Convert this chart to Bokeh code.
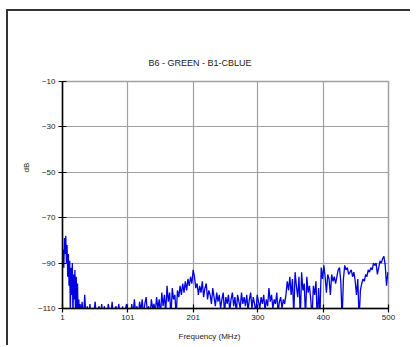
from bokeh.plotting import figure
from bokeh.models import FixedTicker, Title, Range1d
from bokeh.embed import file_html
from bokeh.resources import INLINE

# ---- data -----------------------------------------------------------------
title_text = "B6 - GREEN - B1-CBLUE"
x_label = "Frequency (MHz)"
y_label = "dB"
x_ticks = [1, 101, 201, 300, 400, 500]
y_ticks = [-10, -30, -50, -70, -90, -110]

# 1 MHz steps up to 30 MHz, then 2 MHz steps
freq_mhz = list(range(1, 31)) + list(range(31, 501, 2))
level_db = [
    -88, -84, -92, -79, -86, -78, -90, -82, -96, -86,
    -100, -89, -112, -92, -104, -90, -114, -95, -106, -93,
    -115, -96, -110, -99, -114, -106, -115, -108, -113, -110,
    -107, -115, -104, -114, -109,
    -113, -108, -115, -110, -112, -107, -114, -111, -109, -113,
    -108, -114, -109, -112, -115, -108, -111, -113, -107, -114,
    -110, -109, -114, -108, -112, -115, -109, -113, -111, -108,
    -114, -112, -115, -108, -113, -106, -112, -109, -114, -107,
    -111, -106, -113, -108, -105, -112, -109, -114, -106, -110,
    -108, -112, -105, -110, -106, -113, -103, -109, -104, -112,
    -100, -107, -103, -114, -101, -106, -104, -113, -102, -105,
    -100, -104, -99, -103, -98, -102, -97, -100, -96, -99,
    -93, -96, -101, -99, -104, -100, -103, -98, -105, -101,
    -99, -106, -102, -104, -108, -101, -105, -109, -103, -107,
    -104, -110, -106, -103, -112, -105, -108, -104, -111, -106,
    -103, -109, -105, -112, -104, -107, -110, -103, -108, -105,
    -109, -104, -111, -106, -103, -110, -105, -108, -112, -104,
    -107, -110, -105, -108, -104, -111, -106, -109, -101, -107,
    -104, -110, -106, -108, -103, -112, -107, -105, -110, -106,
    -108, -104, -98, -102, -96, -104, -97, -113, -94, -100,
    -105, -96, -115, -94, -102, -99, -114, -96, -103, -100,
    -106, -114, -100, -104, -98, -116, -101, -114, -92, -97,
    -91, -96, -103, -95, -97, -104, -95, -98, -96, -99,
    -96, -93, -92, -98, -115, -97, -91, -93, -92, -95,
    -94, -93, -96, -94, -98, -104, -97, -115, -102, -99,
    -97, -98, -95, -96, -93, -94, -92, -93, -90, -91,
    -90, -95, -92, -89, -90, -88, -87, -91, -100, -94,
]

FONT = "Liberation Sans"

p = figure(width=404, height=336, output_backend="svg", toolbar_location=None,
           x_range=Range1d(1, 500), y_range=Range1d(-110, -10),
           min_border_left=54, min_border_right=24, min_border_top=70,
           min_border_bottom=39, title=None)

p.styles = {"border-left": "2px solid #333333", "border-top": "2px solid #333333",
            "margin-left": "6px", "margin-top": "9px"}

p.line(freq_mhz, level_db, line_color="#0000e0", line_width=1.3)

# frame / grid
p.outline_line_color = "#a0a0a0"
p.outline_line_width = 1.5
p.xgrid.grid_line_color = "#a0a0a0"
p.ygrid.grid_line_color = "#a0a0a0"
p.xgrid.grid_line_width = 1.2
p.ygrid.grid_line_width = 1.2

for ax, ticks in ((p.xaxis[0], x_ticks), (p.yaxis[0], y_ticks)):
    ax.ticker = FixedTicker(ticks=ticks)
    ax.axis_line_color = "#000000"
    ax.axis_line_width = 1.5
    ax.major_tick_line_color = "#000000"
    ax.major_tick_line_width = 1.2
    ax.major_tick_in = 4
    ax.major_tick_out = 4
    ax.minor_tick_line_color = None
    ax.major_label_text_font = FONT
    ax.major_label_text_font_size = "8px"
    ax.major_label_text_color = "#222222"
p.xaxis.major_label_standoff = 2
p.yaxis.major_label_standoff = 3

# titles
t = Title(text=title_text, align="left", offset=86, text_font=FONT,
          text_font_size="9px", text_font_style="normal", text_color="#222222",
          standoff=28)
p.add_layout(t, "above")

xl = Title(text=x_label, align="left", offset=116, text_font=FONT,
           text_font_size="8px", text_font_style="normal", text_color="#222222",
           standoff=14)
p.add_layout(xl, "below")

yl = Title(text=y_label, align="left", offset=136, text_font=FONT,
           text_font_size="8px", text_font_style="normal", text_color="#222222",
           standoff=10)
p.add_layout(yl, "left")

open("out.html", "w").write(file_html(p, INLINE))
